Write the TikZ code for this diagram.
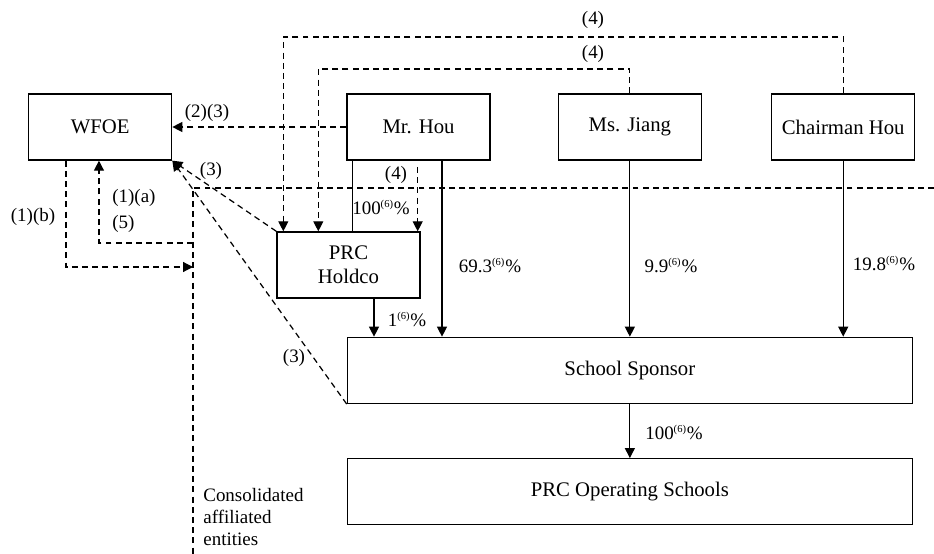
\documentclass[tikz,border=0pt]{standalone}
\usepackage{fontspec}
\setmainfont{Liberation Serif}
\usetikzlibrary{positioning,arrows.meta,calc}

\newcommand{\share}[1]{#1\textsuperscript{\fontsize{6}{6}\selectfont(6)}\%}

\begin{document}
\begin{tikzpicture}[
  x=0.02cm, y=-0.02cm,
  font=\fontsize{10.8}{12.8}\selectfont,
  node distance=1.34cm,
  party/.style={draw, rectangle, line width=0.8pt, minimum width=2.86cm, minimum height=1.32cm, align=center, inner sep=0pt, font=\fontsize{11.8}{13.4}\selectfont},
  wide/.style={party, minimum width=11.3cm},
  own/.style={-{Triangle[length=2mm,width=2mm]}, line width=0.7pt},
  ctl/.style={own, dash pattern=on 3.4pt off 2.4pt},
  bnd/.style={line width=0.7pt, dash pattern=on 3.4pt off 2.4pt},
  lbl/.style={inner sep=0pt}
]
  \useasboundingbox (0,0) rectangle (934,554);

  % parties
  \node[party] (hou) at (418.5,127) {Mr. Hou};
  \node[party, left=3.48cm of hou] (wfoe) {WFOE};
  \node[party, right=of hou] (jiang) {Ms. Jiang};
  \node[party, right=1.38cm of jiang] (chair) {Chairman Hou};
  \node[party] (holdco) at (348.5,265) {PRC\\Holdco};
  \node[wide, below=3.52cm of jiang] (sponsor) {School Sponsor};
  \node[wide, below=1.08cm of sponsor] (schools) {PRC Operating Schools};

  % helper points
  \coordinate (lane1) at (0,37);
  \coordinate (lane2) at (0,69);
  \coordinate (lane3) at (0,167);
  \coordinate (row1) at (0,267);
  \coordinate (row2) at (0,243);
  \coordinate (edge) at (193,188);
  \coordinate (edgeE) at (934,188);
  \coordinate (edgeS) at (193,554);
  \coordinate (h1) at ($(holdco.north west)+(7,0)$);
  \coordinate (h2) at ($(holdco.north west)+(42,0)$);
  \coordinate (h3) at ($(holdco.north east)+(-3,0)$);
  \coordinate (h0) at ($(hou.south west)+(6,0)$);
  \coordinate (h5) at ($(hou.south)+(23.5,0)$);
  \coordinate (h6) at ($(holdco.south)+(25.5,0)$);
  \coordinate (b1) at ($(wfoe.south west)+(38,0)$);
  \coordinate (a1) at ($(wfoe.south west)+(71,0)$);

  % control arrangements
  \draw[ctl] (hou.west) -- (wfoe.east);
  \draw[ctl] (chair.north) |- (h1 |- lane1) -- (h1);
  \draw[ctl] (jiang.north) |- (h2 |- lane2) -- (h2);
  \draw[ctl] (h3 |- lane3) -- (h3);
  \draw[ctl] (holdco.north west) -- (wfoe.south east);
  \draw[ctl] (sponsor.south west) -- (wfoe.south east);
  \draw[ctl] (b1) |- (edge |- row1);
  \draw[ctl] (edge |- row2) -| (a1);
  \draw[bnd] (edgeE) -- (edge) -- (edgeS);

  % equity
  \draw[line width=0.7pt] (h0) -- (h0 |- holdco.north);
  \draw[own] (h5) -- (h5 |- sponsor.north);
  \draw[own] (jiang.south) -- (jiang.south |- sponsor.north);
  \draw[own] (chair.south) -- (chair.south |- sponsor.north);
  \draw[own] (h6) -- (h6 |- sponsor.north);
  \draw[own] (sponsor) -- (schools);

  % labels
  \node[lbl] (l23) at (207,113) {(2)(3)};
  \node[lbl] (l4a) at (593,20) {(4)};
  \node[lbl] (l4b) at (593,54) {(4)};
  \node[lbl] (l4c) at (396,175) {(4)};
  \node[lbl] (l3a) at (211,171) {(3)};
  \node[lbl] (l3b) at (294,358) {(3)};
  \node[lbl] (l1b) at (33,217) {(1)(b)};
  \node[lbl, anchor=west] (l1a) at (112,198) {(1)(a)};
  \node[lbl, anchor=west] (l5) at (112,224) {(5)};
  \node[lbl] (p100) at (381,207) {\share{100}};
  \node[lbl] (p693) at (490,265) {\share{69.3}};
  \node[lbl] (p99) at (671,265) {\share{9.9}};
  \node[lbl] (p198) at (884,263) {\share{19.8}};
  \node[lbl] (p1) at (407,319) {\share{1}};
  \node[lbl] (p100b) at (674,432) {\share{100}};
  \node[lbl, anchor=west, align=left] (cae) at (203,517) {Consolidated\\affiliated\\entities};
\end{tikzpicture}
\end{document}
